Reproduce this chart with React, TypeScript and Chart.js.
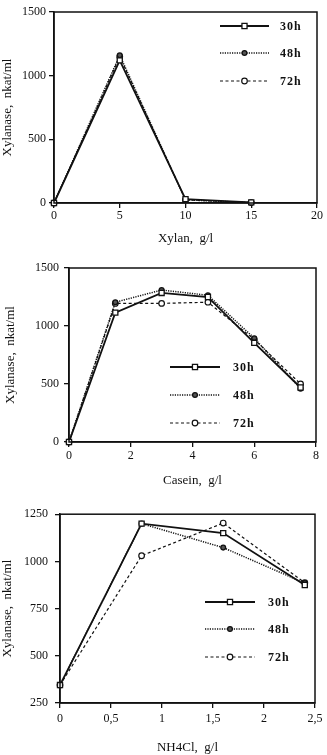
import React, { useEffect, useRef } from "react";
import { Chart, registerables } from "chart.js";

Chart.register(...registerables);

const seriesNames = ["30h", "48h", "72h"];

// Chart 1: Xylan
const xylanX = [0, 5, 10, 15];
const xylan30 = [0, 1120, 30, 5];
const xylan48 = [0, 1160, 25, 3];
const xylan72 = [0, 1150, 25, 3];
const xylanTicks = ["0", "5", "10", "15", "20"];

// Chart 2: Casein
const caseinX = [0, 1.5, 3, 4.5, 6, 7.5];
const casein30 = [0, 1115, 1285, 1250, 855, 470];
const casein48 = [0, 1205, 1310, 1265, 895, 460];
const casein72 = [0, 1195, 1195, 1205, 885, 500];
const caseinTicks = ["0", "2", "4", "6", "8"];

// Chart 3: NH4Cl
const nhX = [0, 0.8, 1.6, 2.4];
const nh30 = [345, 1200, 1150, 875];
const nh48 = [345, 1200, 1073, 885];
const nh72 = [345, 1030, 1203, 887];
const nhTicks = ["0", "0,5", "1", "1,5", "2", "2,5"];

const FONT = "'Liberation Serif', 'Times New Roman', serif";

const styles = [
  { dash: [] as number[], width: 1.8, pointStyle: "rect", radius: 3.6, fill: "#ffffff", pw: 1.3 },
  { dash: [1.2, 1.2], width: 1.5, pointStyle: "circle", radius: 2.4, fill: "#555555", pw: 1.3 },
  { dash: [3, 2.5], width: 1.2, pointStyle: "circle", radius: 2.8, fill: "#ffffff", pw: 1.2 },
];

type Cfg = {
  height: number;
  top: number;
  xs: number[];
  ys: number[][];
  xMin: number;
  xMax: number;
  xStep: number;
  xTicks: string[];
  yMin: number;
  yMax: number;
  yStep: number;
  xTitle: string;
  yWidth: number;
  xHeight: number;
  padTop: number;
  padRight: number;
  yTitlePad: number;
  yTickPad: number;
  xTickPad: number;
  xTitlePadBottom: number;
  legend: { x0: number; x1: number; tx: number; rows: number[] };
};

const configs: Cfg[] = [
  {
    height: 250, top: 0, xs: xylanX, ys: [xylan30, xylan48, xylan72],
    xMin: 0, xMax: 20, xStep: 5, xTicks: xylanTicks, yMin: 0, yMax: 1500, yStep: 500,
    xTitle: "Xylan,  g/l", yWidth: 54, xHeight: 47, padTop: 12, padRight: 10,
    yTitlePad: 0, yTickPad: 3, xTickPad: 1, xTitlePadBottom: 4,
    legend: { x0: 220, x1: 269, tx: 280, rows: [26, 53, 81] },
  },
  {
    height: 250, top: 250, xs: caseinX, ys: [casein30, casein48, casein72],
    xMin: 0, xMax: 8, xStep: 2, xTicks: caseinTicks, yMin: 0, yMax: 1500, yStep: 500,
    xTitle: "Casein,  g/l", yWidth: 69, xHeight: 58, padTop: 18, padRight: 11,
    yTitlePad: 3, yTickPad: 5, xTickPad: 2, xTitlePadBottom: 12,
    legend: { x0: 170, x1: 220, tx: 233, rows: [117, 145, 173] },
  },
  {
    height: 255, top: 500, xs: nhX, ys: [nh30, nh48, nh72],
    xMin: 0, xMax: 2.5, xStep: 0.5, xTicks: nhTicks, yMin: 250, yMax: 1250, yStep: 250,
    xTitle: "NH4Cl,  g/l", yWidth: 60, xHeight: 52, padTop: 10, padRight: 12,
    yTitlePad: 0, yTickPad: 7, xTickPad: 4, xTitlePadBottom: 0,
    legend: { x0: 205, x1: 255, tx: 268, rows: [102, 129, 157] },
  },
];

function drawMarker(ctx: CanvasRenderingContext2D, i: number, x: number, y: number) {
  const s = styles[i];
  ctx.save();
  ctx.setLineDash([]);
  ctx.lineWidth = s.pw;
  ctx.strokeStyle = "#111";
  ctx.fillStyle = s.fill;
  ctx.beginPath();
  if (s.pointStyle === "rect") {
    const h = s.radius * Math.SQRT1_2;
    ctx.rect(x - h, y - h, 2 * h, 2 * h);
  } else {
    ctx.arc(x, y, s.radius, 0, Math.PI * 2);
  }
  ctx.fill();
  ctx.stroke();
  ctx.restore();
}

function makePlugin(cfg: Cfg) {
  return {
    id: "frameLegend",
    afterDraw(chart: any) {
      const ctx: CanvasRenderingContext2D = chart.ctx;
      const a = chart.chartArea;
      ctx.save();
      ctx.strokeStyle = "#111";
      ctx.lineWidth = 1.5;
      ctx.setLineDash([]);
      ctx.strokeRect(a.left, a.top, a.right - a.left, a.bottom - a.top);
      const L = cfg.legend;
      seriesNames.forEach((name, i) => {
        const y = L.rows[i];
        const s = styles[i];
        ctx.save();
        ctx.strokeStyle = "#111";
        ctx.lineWidth = s.width;
        ctx.setLineDash(s.dash);
        ctx.beginPath();
        ctx.moveTo(L.x0, y);
        ctx.lineTo(L.x1, y);
        ctx.stroke();
        ctx.restore();
        drawMarker(ctx, i, (L.x0 + L.x1) / 2, y);
        ctx.save();
        ctx.fillStyle = "#111";
        ctx.font = `bold 12px ${FONT}`;
        (ctx as any).letterSpacing = "1px";
        ctx.textBaseline = "middle";
        ctx.textAlign = "left";
        ctx.fillText(name, L.tx, y + 1);
        ctx.restore();
      });
      ctx.restore();
    },
  };
}

function OneChart({ cfg }: { cfg: Cfg }) {
  const ref = useRef<HTMLCanvasElement | null>(null);
  useEffect(() => {
    if (!ref.current) return;
    const datasets = cfg.ys.map((vals, i) => {
      const s = styles[i];
      return {
        label: seriesNames[i],
        data: cfg.xs.map((x, j) => ({ x, y: vals[j] })),
        borderColor: "#111",
        borderWidth: s.width,
        borderDash: s.dash,
        pointStyle: s.pointStyle,
        pointRadius: s.radius,
        pointBorderWidth: s.pw,
        pointBackgroundColor: s.fill,
        pointBorderColor: "#111",
        tension: 0,
        clip: false as any,
      };
    });
    const tickFont = { family: FONT, size: 12 };
    const titleFont = { family: FONT, size: 13 };
    const chart = new Chart(ref.current, {
      type: "line",
      data: { datasets: datasets as any },
      options: {
        animation: false,
        responsive: true,
        maintainAspectRatio: false,
        layout: { padding: { top: cfg.padTop, right: cfg.padRight, left: 0, bottom: 0 } },
        plugins: { legend: { display: false }, tooltip: { enabled: false } },
        scales: {
          x: {
            type: "linear",
            min: cfg.xMin,
            max: cfg.xMax,
            ticks: {
              stepSize: cfg.xStep,
              color: "#111",
              font: tickFont,
              padding: cfg.xTickPad,
              maxRotation: 0,
              callback: (_v: any, idx: number) => cfg.xTicks[idx],
            },
            grid: { display: true, drawOnChartArea: false, drawTicks: true, tickLength: 5, color: "#111", lineWidth: 1.3 },
            border: { display: true, color: "#111", width: 1.5 },
            title: {
              display: true,
              text: cfg.xTitle,
              color: "#111",
              font: titleFont,
              padding: { top: 0, bottom: cfg.xTitlePadBottom },
            },
            afterFit: (s: any) => { s.height = cfg.xHeight; },
          },
          y: {
            type: "linear",
            min: cfg.yMin,
            max: cfg.yMax,
            ticks: {
              stepSize: cfg.yStep,
              color: "#111",
              font: tickFont,
              padding: cfg.yTickPad,
              callback: (v: any) => String(v),
            },
            grid: { display: true, drawOnChartArea: false, drawTicks: true, tickLength: 5, color: "#111", lineWidth: 1.3 },
            border: { display: true, color: "#111", width: 1.5 },
            title: {
              display: true,
              text: "Xylanase,  nkat/ml",
              color: "#111",
              font: titleFont,
              padding: { top: cfg.yTitlePad, bottom: 0 },
            },
            afterFit: (s: any) => { s.width = cfg.yWidth; },
          },
        },
      },
      plugins: [makePlugin(cfg)],
    });
    return () => chart.destroy();
  }, [cfg]);
  return (
    <div style={{ position: "absolute", left: 0, top: cfg.top, width: 327, height: cfg.height }}>
      <canvas ref={ref} />
    </div>
  );
}

export default function App() {
  return (
    <div style={{ position: "absolute", left: 0, top: 0, width: 327, height: 755, background: "#fff" }}>
      {configs.map((c, i) => (
        <OneChart key={i} cfg={c} />
      ))}
    </div>
  );
}
